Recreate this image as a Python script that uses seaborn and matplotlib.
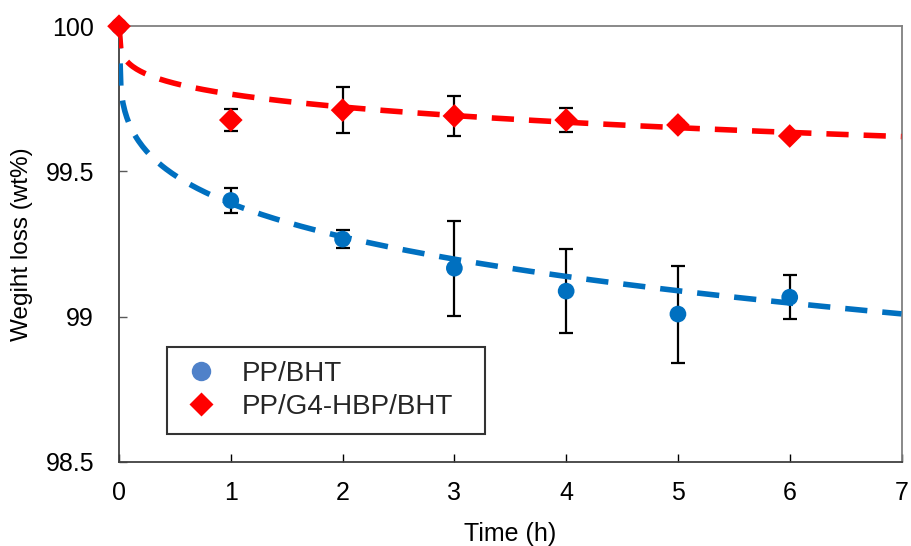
import numpy as np
import pandas as pd
import matplotlib
matplotlib.use("Agg")
import matplotlib.pyplot as plt
import seaborn as sns
from matplotlib.lines import Line2D

# ---- data ----
time_h = [0, 1, 2, 3, 4, 5, 6]
bht_mean = [100.0, 99.40, 99.267, 99.167, 99.088, 99.009, 99.067]
bht_err = [0.0, 0.042, 0.03, 0.163, 0.145, 0.167, 0.075]
hbp_mean = [100.0, 99.677, 99.711, 99.691, 99.677, 99.66, 99.622]
hbp_err = [0.0, 0.037, 0.08, 0.069, 0.042, 0.012, 0.01]

series_names = ["PP/BHT", "PP/G4-HBP/BHT"]
# power-law trend lines: y = 100 - b * x**c
trend_b = [0.61, 0.234]
trend_c = [0.249, 0.249]

x_ticks = [0, 1, 2, 3, 4, 5, 6, 7]
y_ticks = [98.5, 99.0, 99.5, 100.0]
y_tick_labels = ["98.5", "99", "99.5", "100"]

blue = "#0070C0"
red = "#FF0000"
legend_blue = "#4F81C9"

sns.set_theme(style="white")
plt.rcParams["font.family"] = ["Liberation Sans", "DejaVu Sans"]

fig = plt.figure(figsize=(9.12, 5.46), dpi=100)
ax = fig.add_axes([0.1305, 0.154, 0.858, 0.798])

# error bars
ax.errorbar(time_h[1:], bht_mean[1:], yerr=bht_err[1:], fmt="none", ecolor="black",
            elinewidth=1.6, capsize=5, capthick=1.6, zorder=2)
ax.errorbar(time_h[1:], hbp_mean[1:], yerr=hbp_err[1:], fmt="none", ecolor="black",
            elinewidth=1.6, capsize=5, capthick=1.6, zorder=2)

pts = pd.DataFrame({"x": time_h, "y": bht_mean})
sns.scatterplot(data=pts, x="x", y="y", ax=ax, color=blue, marker="o", s=145,
                edgecolor="none", zorder=3, clip_on=False)
pts2 = pd.DataFrame({"x": time_h, "y": hbp_mean})
sns.scatterplot(data=pts2, x="x", y="y", ax=ax, color=red, marker="D", s=145,
                edgecolor="none", zorder=4, clip_on=False)

# trend lines
xs = np.linspace(0, 7, 400)
trend_df = pd.concat([
    pd.DataFrame({"x": xs, "y": 100 - trend_b[i] * xs ** trend_c[i], "s": series_names[i]})
    for i in range(2)
])
n_before = len(ax.get_lines())
sns.lineplot(data=trend_df, x="x", y="y", hue="s", palette=[blue, red], ax=ax,
             linewidth=4, legend=False, zorder=5)
for ln in ax.get_lines()[n_before:]:
    ln.set_dashes([4, 2.7])
    ln.set_dash_capstyle("butt")

ax.set_xlim(0, 7)
ax.set_ylim(98.5, 100)
ax.set_xticks(x_ticks)
ax.set_xticklabels([str(t) for t in x_ticks])
ax.set_yticks(y_ticks)
ax.set_yticklabels(y_tick_labels)
ax.tick_params(axis="both", direction="in", length=6, width=1, colors="black",
               labelsize=18, left=True, bottom=True)
ax.tick_params(axis="x", pad=14)
ax.tick_params(axis="y", pad=18, color="#595959")
ax.set_xlabel("Time (h)", fontsize=18, labelpad=12, color="black")
ax.set_ylabel("Wegiht loss (wt%)", fontsize=17.5, labelpad=9, color="black")

for side in ["left", "bottom"]:
    ax.spines[side].set_color("#404040")
    ax.spines[side].set_linewidth(1.3)
for side in ["top", "right"]:
    ax.spines[side].set_color("#808080")
    ax.spines[side].set_linewidth(1.3)

handles = [
    Line2D([], [], linestyle="none", marker="o", markersize=14, color=legend_blue,
           markeredgecolor="none"),
    Line2D([], [], linestyle="none", marker="D", markersize=12, color=red,
           markeredgecolor="none"),
]
leg = ax.legend(handles, series_names, loc="upper left",
                bbox_to_anchor=(0.061, 0.0, 0.407, 0.2638), mode="expand",
                fontsize=20, frameon=True, fancybox=False, borderpad=0.5,
                handletextpad=0.7, labelspacing=0.25, handlelength=1.5,
                borderaxespad=0)
leg.get_frame().set_edgecolor("black")
leg.get_frame().set_linewidth(1.5)

fig.savefig("out.png", dpi=100)
